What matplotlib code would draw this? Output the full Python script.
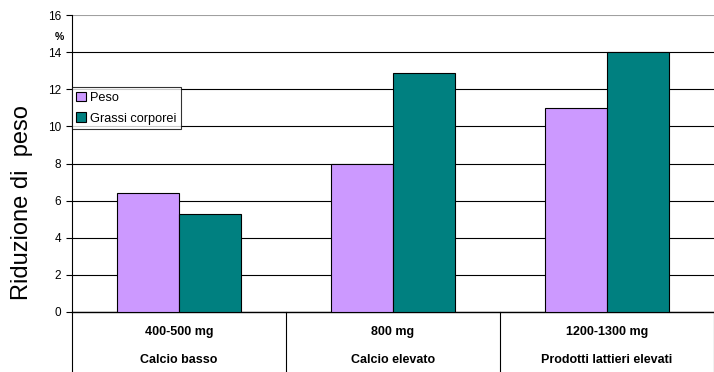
import matplotlib
matplotlib.use('Agg')
import matplotlib.pyplot as plt
import matplotlib.transforms as mtransforms
import numpy as np

plt.rcParams['font.family'] = ['Liberation Sans', 'DejaVu Sans']

doses = ['400-500 mg', '800 mg', '1200-1300 mg']
groups = ['Calcio basso', 'Calcio elevato', 'Prodotti lattieri elevati']
peso = [6.4, 8.0, 11.0]
grassi = [5.3, 12.9, 14.0]
yticks = [0, 2, 4, 6, 8, 10, 12, 14, 16]

fig = plt.figure(figsize=(7.14, 3.72), dpi=100)
ax = fig.add_axes([72 / 714, 60 / 372, 642 / 714, 297 / 372])

x = np.arange(len(doses))
w = 0.29
ax.bar(x - w / 2, peso, w, color='#CC99FF', edgecolor='black', lw=0.8,
       label='Peso', zorder=3)
ax.bar(x + w / 2, grassi, w, color='#008080', edgecolor='black', lw=0.8,
       label='Grassi corporei', zorder=3)

ax.set_xlim(-0.5, len(doses) - 0.5)
ax.set_ylim(0, 16)
ax.set_yticks(yticks)
ax.set_xticks([])
ax.tick_params(axis='y', labelsize=8.5, length=4, width=0.8, direction='out',
               pad=4)
ax.grid(axis='y', color='black', lw=0.8, zorder=0)
ax.get_ygridlines()[-1].set_color('#a0a0a0')
ax.get_ygridlines()[-1].set_linewidth(1.5)

for s in ['top', 'right']:
    ax.spines[s].set_visible(False)
ax.spines['left'].set_linewidth(0.8)
ax.spines['bottom'].set_linewidth(1.0)
ax.spines['left'].set_bounds(0, 16)

# category axis below the plot
trans = mtransforms.blended_transform_factory(ax.transData, ax.transAxes)
for i in range(len(doses) + 1):
    ax.plot([i - 0.5, i - 0.5], [0, -0.21], color='black', lw=0.8,
            transform=trans, clip_on=False)
for i, (d, g) in enumerate(zip(doses, groups)):
    ax.text(i, -0.068, d, transform=trans, ha='center', va='center',
            fontsize=9, fontweight='bold')
    ax.text(i, -0.162, g, transform=trans, ha='center', va='center',
            fontsize=9, fontweight='bold')

ax.text(-0.02, 14.8, '%', transform=mtransforms.blended_transform_factory(
    ax.transAxes, ax.transData), ha='center', va='center', fontsize=7.5,
    fontweight='bold')

ax.set_ylabel('Riduzione di  peso', fontsize=17)
ax.yaxis.set_label_coords(-0.061, 0.37)

leg = ax.legend(loc='upper left', bbox_to_anchor=(0, 0.757), fontsize=9.2,
                frameon=True, fancybox=False, edgecolor='black',
                handlelength=0.75, handleheight=0.75, handletextpad=0.3,
                borderpad=0.35, labelspacing=0.68, borderaxespad=0)
leg.get_frame().set_linewidth(0.8)

fig.savefig('out.png', dpi=100)
